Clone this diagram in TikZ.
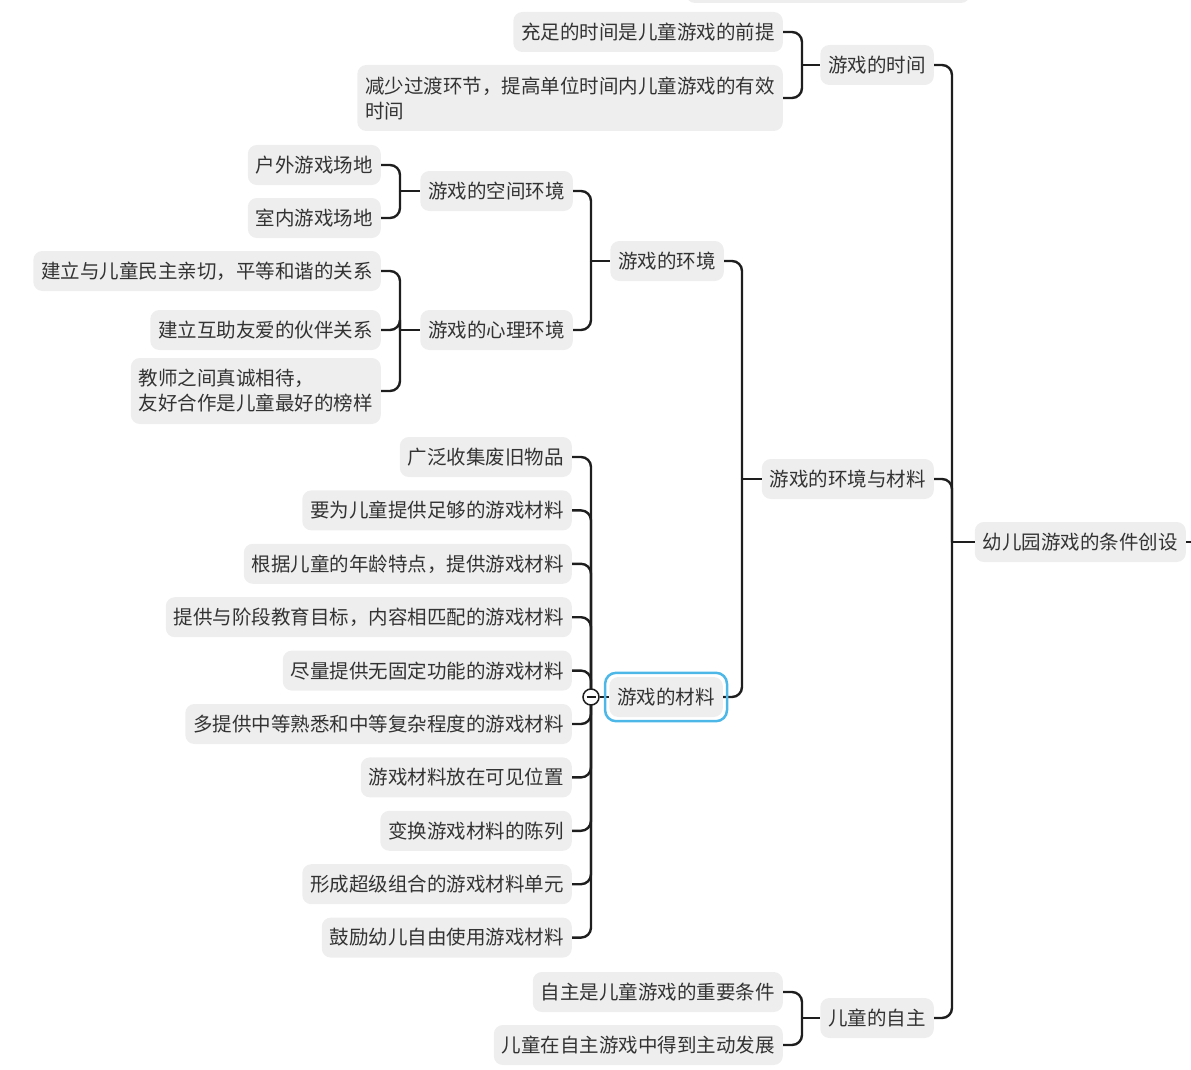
\documentclass[tikz,border=0pt]{standalone}
\usepackage{fontspec}
\newfontfamily\cjk{Noto Sans CJK SC}
\usepackage{xcolor}
\definecolor{boxgray}{HTML}{EEEEEE}
\definecolor{textgray}{HTML}{333333}
\definecolor{linegray}{HTML}{1E1E1E}
\definecolor{selblue}{HTML}{4DB8E8}

\begin{document}
\begin{tikzpicture}[x=1pt,y=-1pt,
        topic/.style={anchor=east,fill=boxgray,rounded corners=9pt,text=textgray,
            font=\cjk\fontsize{19.5}{25}\selectfont,inner xsep=8pt,inner ysep=3pt,
            minimum height=40pt,align=left},
        twoline/.style={minimum height=66pt},
        link/.style={draw=linegray,line width=2.4pt,rounded corners=10pt}]
    \useasboundingbox (0,0) rectangle (1191,1070);
    \fill[boxgray,rounded corners=9pt] (686,-40) rectangle (970,3);

    \node[topic] (root) at (1186,542) {幼儿园游戏的条件创设};
    \node[topic] (time) at (934,65) {游戏的时间};
    \node[topic] (envmat) at (934,479) {游戏的环境与材料};
    \node[topic] (auto) at (934,1018) {儿童的自主};

    \node[topic] (t1) at (783,32) {充足的时间是儿童游戏的前提};
    \node[topic,twoline] (t2) at (783,98) {减少过渡环节，提高单位时间内儿童游戏的有效\\时间};

    \node[topic] (env) at (724,261) {游戏的环境};
    \node[topic] (mat) at (723,697) {游戏的材料};

    \node[topic] (space) at (573,191) {游戏的空间环境};
    \node[topic] (psych) at (573,330) {游戏的心理环境};
    \node[topic] (s1) at (381,165) {户外游戏场地};
    \node[topic] (s2) at (381,218) {室内游戏场地};
    \node[topic] (p1) at (381,271) {建立与儿童民主亲切，平等和谐的关系};
    \node[topic] (p2) at (381,330) {建立互助友爱的伙伴关系};
    \node[topic,twoline] (p3) at (381,391) {教师之间真诚相待，\\友好合作是儿童最好的榜样};

    \foreach \t [count=\i] in {广泛收集废旧物品,要为儿童提供足够的游戏材料,
            根据儿童的年龄特点，提供游戏材料,提供与阶段教育目标，内容相匹配的游戏材料,
            尽量提供无固定功能的游戏材料,多提供中等熟悉和中等复杂程度的游戏材料,
            游戏材料放在可见位置,变换游戏材料的陈列,形成超级组合的游戏材料单元,
            鼓励幼儿自由使用游戏材料}
        \node[topic] (m\i) at (572,{457+53.4*(\i-1)}) {\t};

    \node[topic] (a1) at (783,992) {自主是儿童游戏的重要条件};
    \node[topic] (a2) at (783,1045) {儿童在自主游戏中得到主动发展};

    \coordinate (jroot) at (952,542);
    \coordinate (jtime) at (802,65);
    \coordinate (jenvmat) at (742,479);
    \coordinate (jenv) at (591,261);
    \coordinate (jspace) at (400,191);
    \coordinate (jpsych) at (400,330);
    \coordinate (jmat) at (591,697);
    \coordinate (jauto) at (802,1018);
    \coordinate (rootout) at (1196,542);

    \draw[link] (root.east) -- (rootout);
    \foreach \c in {time,envmat,auto}
        \draw[link] (\c.east) -| (jroot);
    \draw[link] (jroot) -- (root.west);

    \foreach \c in {t1,t2}
        \draw[link] (\c.east) -| (jtime);
    \draw[link] (jtime) -- (time.west);

    \foreach \c in {env,mat}
        \draw[link] (\c.east) -| (jenvmat);
    \draw[link] (jenvmat) -- (envmat.west);

    \foreach \c in {space,psych}
        \draw[link] (\c.east) -| (jenv);
    \draw[link] (jenv) -- (env.west);

    \foreach \c in {s1,s2}
        \draw[link] (\c.east) -| (jspace);
    \draw[link] (jspace) -- (space.west);

    \foreach \c in {p1,p2,p3}
        \draw[link] (\c.east) -| (jpsych);
    \draw[link] (jpsych) -- (psych.west);

    \foreach \i in {1,...,10}
        \draw[link] (m\i.east) -| (jmat);
    \node[circle,draw=linegray,fill=white,line width=1.5pt,minimum size=16pt,inner sep=0pt] (fold) at (jmat) {};
    \draw[linegray,line width=1.5pt] ([xshift=-4.5pt]fold.center) -- ([xshift=4.5pt]fold.center);
    \draw[link] (fold.east) -- (mat.west);
    \draw[selblue,line width=2.5pt,rounded corners=11pt] ([xshift=-4pt,yshift=4pt]mat.north west) rectangle ([xshift=4pt,yshift=-4pt]mat.south east);

    \foreach \c in {a1,a2}
        \draw[link] (\c.east) -| (jauto);
    \draw[link] (jauto) -- (auto.west);
\end{tikzpicture}
\end{document}
